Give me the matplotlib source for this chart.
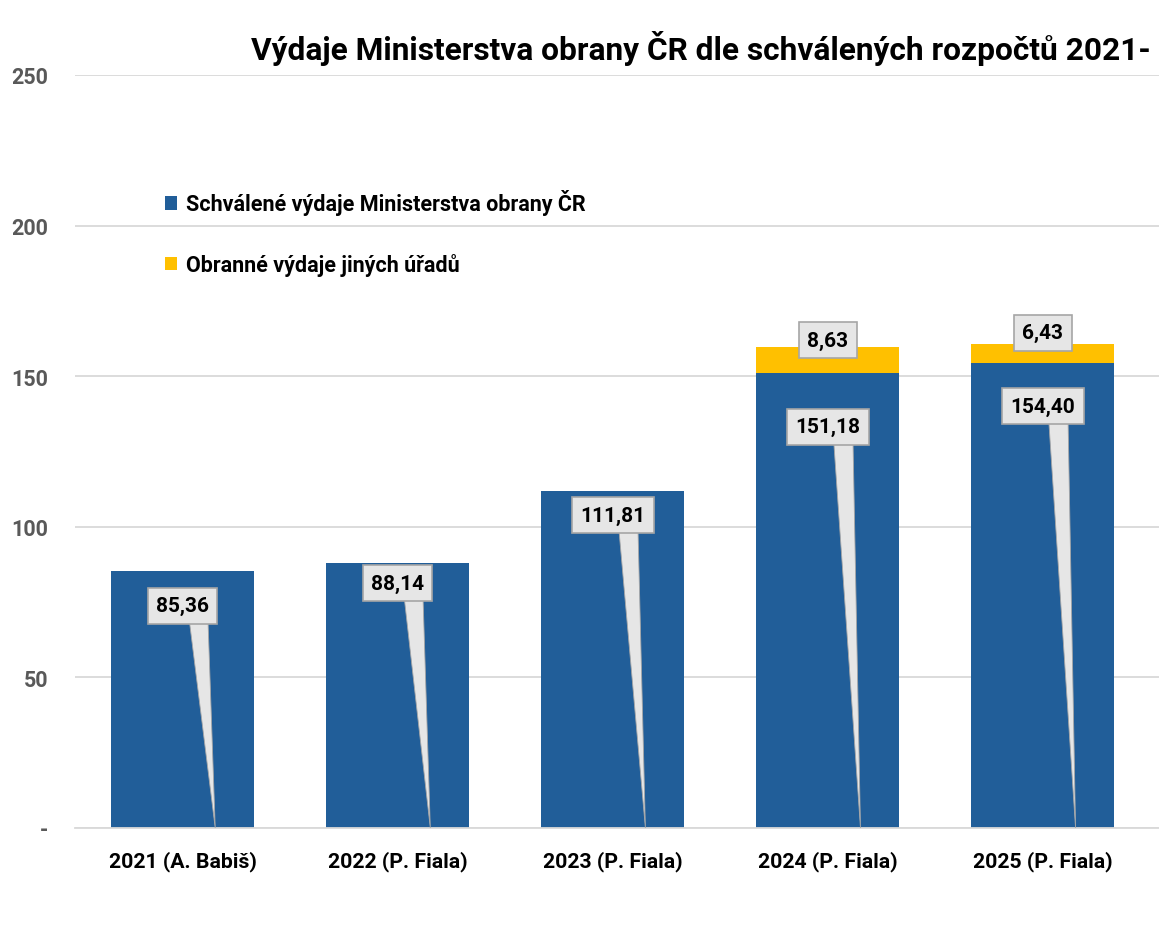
"""
Výdaje Ministerstva obrany ČR dle schválených rozpočtů – skládaný sloupcový graf
"""

import matplotlib
matplotlib.use("Agg")
import matplotlib.pyplot as plt
from matplotlib.patches import Patch, Polygon

# ── data ─────────────────────────────────────────────────────────────────────
categories = ["2021 (A. Babiš)", "2022 (P. Fiala)", "2023 (P. Fiala)",
              "2024 (P. Fiala)", "2025 (P. Fiala)"]
mo_values = [85.36, 88.14, 111.81, 151.18, 154.40]
other_values = [0, 0, 0, 8.63, 6.43]
y_ticks = [0, 50, 100, 150, 200, 250]
y_tick_labels = ["-", "50", "100", "150", "200", "250"]
legend_labels = ["Schválené výdaje Ministerstva obrany ČR",
                 "Obranné výdaje jiných úřadů"]
# v originále je nadpis oříznutý pravým okrajem obrázku
title = "Výdaje Ministerstva obrany ČR dle schválených rozpočtů 2021-"

# ── vzhled ───────────────────────────────────────────────────────────────────
BLUE = "#215E99"
YELLOW = "#FFC000"
BOX_FACE = "#E6E6E6"
BOX_EDGE = "#A6A6A6"
FONT = ["Roboto", "DejaVu Sans"]

# posun popisků (v jednotkách osy y) – ručně umístěné bubliny jako v Excelu
label_drop = [11.6, 6.8, 8.0, 18.0, 14.3]
top_lift = [0, 0, 0, 2.2, 3.6]

plt.rcParams["font.family"] = FONT
plt.rcParams["font.weight"] = "bold"

fig = plt.figure(figsize=(11.59, 9.37), dpi=100)
ax = fig.add_axes([75 / 1159, 108 / 937, 1084 / 1159, 753 / 937])

x = list(range(len(categories)))
ax.bar(x, mo_values, width=0.665, color=BLUE, zorder=2)
ax.bar(x, other_values, width=0.665, bottom=mo_values, color=YELLOW, zorder=2)

ax.set_xlim(-0.5, 4.54)
ax.set_ylim(0, 250)
ax.set_yticks(y_ticks)
ax.set_yticklabels(y_tick_labels, color="#595959", fontsize=15.5, fontweight="bold")
ax.set_xticks(x)
ax.set_xticklabels(categories, fontsize=15.3, fontweight="bold", color="black")
ax.tick_params(axis="y", length=0, pad=19.5)
ax.tick_params(axis="x", length=0, pad=16)
ax.grid(axis="y", color="#D9D9D9", linewidth=1.3, zorder=0)
for side in ["top", "right", "left"]:
    ax.spines[side].set_visible(False)
ax.spines["bottom"].set_color("#D9D9D9")
ax.spines["bottom"].set_linewidth(1.3)

box = dict(boxstyle="square,pad=0.4", facecolor=BOX_FACE, edgecolor=BOX_EDGE, linewidth=1.2)

# popisky modrých sloupců s ukazatelem k základně sloupce
for i, v in enumerate(mo_values):
    ly = v - label_drop[i]
    wedge = Polygon([(i + 0.023, ly), (i + 0.116, ly), (i + 0.152, 0)],
                    closed=True, facecolor=BOX_FACE, edgecolor=BOX_EDGE,
                    linewidth=0.6, zorder=3)
    ax.add_patch(wedge)
    ax.text(i, ly, f"{v:.2f}".replace(".", ","), ha="center", va="center",
            fontsize=15, fontweight="bold", color="black", bbox=box, zorder=4)

# popisky žlutých částí
for i, v in enumerate(other_values):
    if v <= 0:
        continue
    ly = mo_values[i] + v + top_lift[i]
    ax.text(i, ly, f"{v:.2f}".replace(".", ","), ha="center", va="center",
            fontsize=15, fontweight="bold", color="black", bbox=box, zorder=4)

handles = [Patch(facecolor=BLUE), Patch(facecolor=YELLOW)]
ax.legend(handles, legend_labels, loc="upper left", bbox_to_anchor=(0.083, 0.848),
          frameon=False, handlelength=0.58, handleheight=0.58,
          handletextpad=0.42, labelspacing=1.75, borderpad=0, borderaxespad=0,
          prop={"family": FONT, "weight": "bold", "size": 15.5})

fig.text(251 / 1159, 1 - 48 / 937, title, ha="left", va="center",
         fontsize=22.8, fontweight="bold", color="black")

plt.savefig("out.png", dpi=100)
plt.close()
